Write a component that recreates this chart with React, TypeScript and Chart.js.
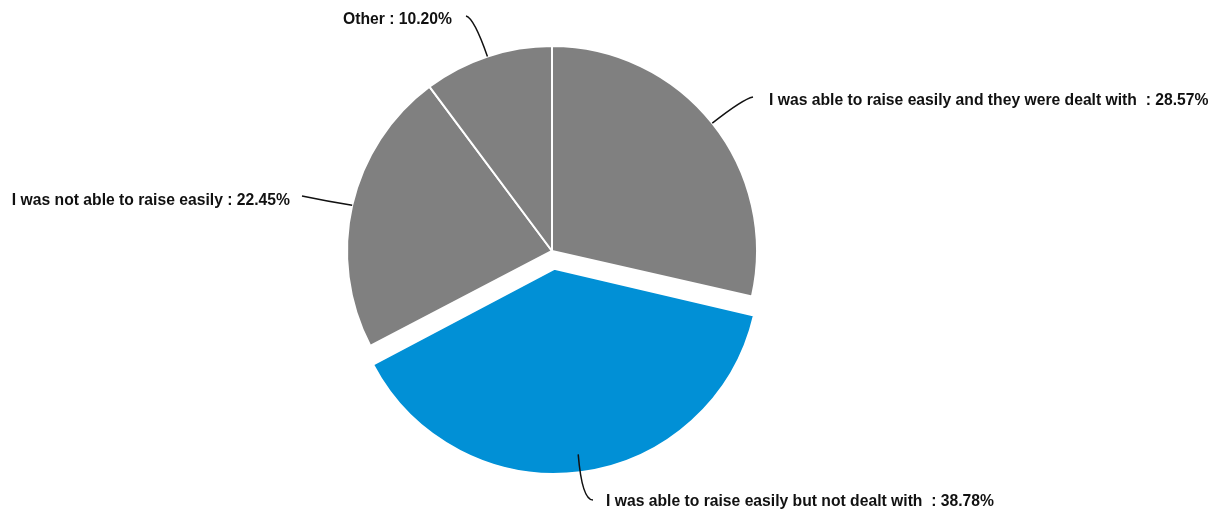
import React, { useEffect, useRef } from "react";
import { Chart, registerables } from "chart.js";

Chart.register(...registerables);

const categories = [
  "I was able to raise easily and they were dealt with ",
  "I was able to raise easily but not dealt with ",
  "I was not able to raise easily",
  "Other",
];
const percentages = [28.57, 38.78, 22.45, 10.2];
const sliceColors = ["#808080", "#0190d6", "#808080", "#808080"];
const sliceOffsets = [0, 72, 0, 0];

// leader-line / label placement, relative to pie centre
const LABEL_LAYOUT = [
  { cx: 191, cy: -152, ex: 201, ey: -154, tx: 217, ty: -150, align: "left" },
  { cx: 30, cy: 249, ex: 41, ey: 249, tx: 54, ty: 251, align: "left" },
  { cx: -226, cy: -50, ex: -250, ey: -55, tx: -262, ty: -50, align: "right" },
  { cx: -78, cy: -233, ex: -86, ey: -235, tx: -100, ty: -231, align: "right" },
];

const PIE_RADIUS = 205;

const fixOffsetPlugin = {
  id: "fixOffset",
  afterDatasetsUpdate(chart: any) {
    const meta = chart.getDatasetMeta(0);
    meta.data.forEach((arc: any, i: number) => {
      const off = (sliceOffsets[i] || 0) / 4;
      if (!off) return;
      const circ = arc.endAngle - arc.startAngle;
      const fix = 1 - Math.sin(Math.min(Math.PI, circ));
      arc.outerRadius = PIE_RADIUS - off * fix;
    });
  },
};

const labelPlugin = {
  id: "pieLabels",
  afterDraw(chart: any) {
    const ctx = chart.ctx;
    const meta = chart.getDatasetMeta(0);
    ctx.save();
    meta.data.forEach((arc: any, i: number) => {
      const x0 = arc.x;
      const y0 = arc.y;
      const mid = (arc.startAngle + arc.endAngle) / 2;
      const ax = x0 + Math.cos(mid) * PIE_RADIUS;
      const ay = y0 + Math.sin(mid) * PIE_RADIUS;
      const L = LABEL_LAYOUT[i];
      ctx.beginPath();
      ctx.moveTo(ax, ay);
      ctx.quadraticCurveTo(x0 + L.cx, y0 + L.cy, x0 + L.ex, y0 + L.ey);
      ctx.strokeStyle = "#111111";
      ctx.lineWidth = 1.5;
      ctx.stroke();
      const txt = `${categories[i]} : ${percentages[i].toFixed(2)}%`;
      ctx.font = "bold 15.7px 'Liberation Sans', Arial, sans-serif";
      ctx.fillStyle = "#111111";
      ctx.textAlign = L.align;
      ctx.textBaseline = "middle";
      ctx.fillText(txt, x0 + L.tx, y0 + L.ty);
    });
    ctx.restore();
  },
};

export default function App() {
  const ref = useRef<HTMLCanvasElement | null>(null);
  useEffect(() => {
    if (!ref.current) return;
    const chart = new Chart(ref.current, {
      type: "pie",
      data: {
        labels: categories,
        datasets: [
          {
            data: percentages,
            backgroundColor: sliceColors,
            borderColor: "#ffffff",
            borderWidth: 2,
            offset: sliceOffsets,
          },
        ],
      },
      options: {
        animation: false,
        responsive: true,
        maintainAspectRatio: false,
        radius: PIE_RADIUS,
        layout: { padding: { left: 0, right: 114, top: 0, bottom: 11 } },
        plugins: {
          legend: { display: false },
          tooltip: { enabled: false },
        },
      } as any,
      plugins: [fixOffsetPlugin, labelPlugin],
    });
    return () => chart.destroy();
  }, []);
  return (
    <div
      style={{
        position: "absolute",
        left: 0,
        top: 0,
        width: 1218,
        height: 513,
        background: "#ffffff",
      }}
    >
      <canvas ref={ref} />
    </div>
  );
}
